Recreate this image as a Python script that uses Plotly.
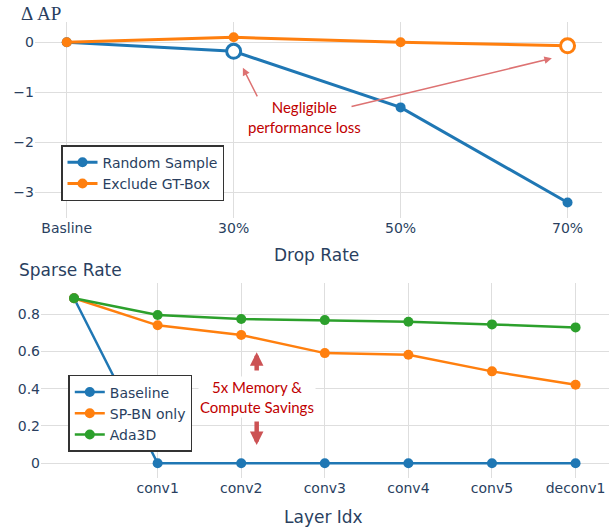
import plotly.graph_objects as go

# ---- data ----
drop_rates = ["Basline", "30%", "50%", "70%"]
random_sample = [0, -0.18, -1.3, -3.2]
exclude_gt_box = [0, 0.1, 0, -0.07]

layers = ["input", "conv1", "conv2", "conv3", "conv4", "conv5", "deconv1"]
baseline = [0.885, 0, 0, 0, 0, 0, 0]
sp_bn_only = [0.885, 0.74, 0.688, 0.591, 0.582, 0.493, 0.421]
ada3d = [0.885, 0.795, 0.774, 0.768, 0.759, 0.745, 0.729]

BLUE, ORANGE, GREEN = "#1f77b4", "#ff7f0e", "#2ca02c"
TXT = "#2a3f5f"
GRID = "#dedede"
FONT = "DejaVu Sans"

layer_idx = list(range(len(layers)))

fig = go.Figure()

# ---- top panel: AP change vs drop rate ----
fig.add_trace(go.Scatter(x=drop_rates, y=random_sample, mode="lines+markers",
                         name="Random Sample", line=dict(color=BLUE, width=3),
                         marker=dict(size=10), xaxis="x", yaxis="y", legend="legend"))
fig.add_trace(go.Scatter(x=drop_rates, y=exclude_gt_box, mode="lines+markers",
                         name="Exclude GT-Box", line=dict(color=ORANGE, width=3),
                         marker=dict(size=10), xaxis="x", yaxis="y", legend="legend"))
# highlighted points
fig.add_trace(go.Scatter(x=[drop_rates[1]], y=[random_sample[1]], mode="markers",
                         marker=dict(size=14, color="white", line=dict(color=BLUE, width=3)),
                         showlegend=False, xaxis="x", yaxis="y"))
fig.add_trace(go.Scatter(x=[drop_rates[3]], y=[exclude_gt_box[3]], mode="markers",
                         marker=dict(size=14, color="white", line=dict(color=ORANGE, width=3)),
                         showlegend=False, xaxis="x", yaxis="y"))

# ---- bottom panel: sparse rate per layer ----
for name, vals, col in [("Baseline", baseline, BLUE),
                        ("SP-BN only", sp_bn_only, ORANGE),
                        ("Ada3D", ada3d, GREEN)]:
    fig.add_trace(go.Scatter(x=layer_idx, y=vals, mode="lines+markers", name=name,
                             line=dict(color=col, width=2.5), marker=dict(size=10),
                             xaxis="x2", yaxis="y2", legend="legend2"))

axis_common = dict(showgrid=True, gridcolor=GRID, gridwidth=1, zeroline=False,
                   showline=False, ticks="", tickfont=dict(family=FONT, size=14, color=TXT))

fig.update_layout(
    width=609, height=529,
    margin=dict(l=35, r=0, t=22, b=51),
    paper_bgcolor="white", plot_bgcolor="white",
    font=dict(family=FONT, color=TXT, size=14),
    xaxis=dict(domain=[0, 0.988], anchor="y", type="category",
               range=[-0.19, 3.207], **axis_common),
    yaxis=dict(domain=[0.5702, 1.0], anchor="x", range=[-3.51, 0.406],
               tickvals=[0, -1, -2, -3], **axis_common),
    xaxis2=dict(domain=[0.0105, 1.0], anchor="y2", range=[-0.395, 6.40],
                tickvals=layer_idx[1:], ticktext=layers[1:], **axis_common),
    yaxis2=dict(domain=[0, 0.4276], anchor="x2", range=[-0.079, 0.967],
                tickvals=[0, 0.2, 0.4, 0.6, 0.8], ticktext=["0", "0.2", "0.4", "0.6", "0.8"],
                **axis_common),
    legend=dict(x=0.0453, y=0.730, xanchor="left", yanchor="top",
                bgcolor="white", bordercolor="#333", borderwidth=1.5,
                font=dict(family=FONT, size=14, color=TXT)),
    legend2=dict(x=0.058, y=0.226, xanchor="left", yanchor="top",
                 bgcolor="white", bordercolor="#333", borderwidth=1.5,
                 font=dict(family=FONT, size=14, color=TXT)),
    showlegend=True,
)

ann = []
# axis titles
ann.append(dict(text="Drop Rate", xref="paper", yref="paper", x=0.491, y=0.489,
                xanchor="center", yanchor="middle", showarrow=False,
                font=dict(family=FONT, size=17, color=TXT)))
ann.append(dict(text="Layer Idx", xref="paper", yref="paper", x=0.503, y=-0.0855,
                xanchor="center", yanchor="middle", showarrow=False,
                font=dict(family=FONT, size=17, color=TXT)))
ann.append(dict(text="Δ AP", xref="paper", yref="paper", x=-0.028, y=1.0197,
                xanchor="left", yanchor="middle", showarrow=False,
                font=dict(family="Liberation Serif", size=19, color=TXT)))
ann.append(dict(text="Sparse Rate", xref="paper", yref="paper", x=-0.031, y=0.456,
                xanchor="left", yanchor="middle", showarrow=False,
                font=dict(family=FONT, size=17, color=TXT)))

# top callout arrows
ARROW_RED = "#dd7272"
ann.append(dict(text="", x=1.055, y=-0.51, ax=1.146, ay=-1.11, xref="x", yref="y",
                axref="x", ayref="y", showarrow=True, arrowhead=2, arrowsize=1,
                arrowwidth=1.5, arrowcolor=ARROW_RED))
ann.append(dict(text="", x=2.906, y=-0.32, ax=1.697, ay=-1.29, xref="x", yref="y",
                axref="x", ayref="y", showarrow=True, arrowhead=2, arrowsize=1,
                arrowwidth=1.5, arrowcolor=ARROW_RED))
ann.append(dict(text="Negligible<br>performance loss", x=1.422, y=-1.49, xref="x", yref="y",
                xanchor="center", yanchor="middle", showarrow=False,
                font=dict(family="Lato", size=15, color="#c00000")))

# bottom callout: double arrow split by the label
BIG_RED = "#cc5254"
ann.append(dict(text="", x=2.185, y=0.595, ax=2.185, ay=0.49, xref="x2", yref="y2",
                axref="x2", ayref="y2", showarrow=True, arrowhead=2, arrowsize=0.6,
                arrowwidth=4.5, arrowcolor=BIG_RED))
ann.append(dict(text="", x=2.185, y=0.098, ax=2.185, ay=0.232, xref="x2", yref="y2",
                axref="x2", ayref="y2", showarrow=True, arrowhead=2, arrowsize=0.6,
                arrowwidth=4.5, arrowcolor=BIG_RED))
ann.append(dict(text="5x Memory &<br>Compute Savings", x=2.185, y=0.353, xref="x2", yref="y2",
                xanchor="center", yanchor="middle", showarrow=False, bgcolor="white",
                font=dict(family="Lato", size=15, color="#c00000")))

fig.update_layout(annotations=ann)

fig.write_html("out.html", config={"displayModeBar": False})
